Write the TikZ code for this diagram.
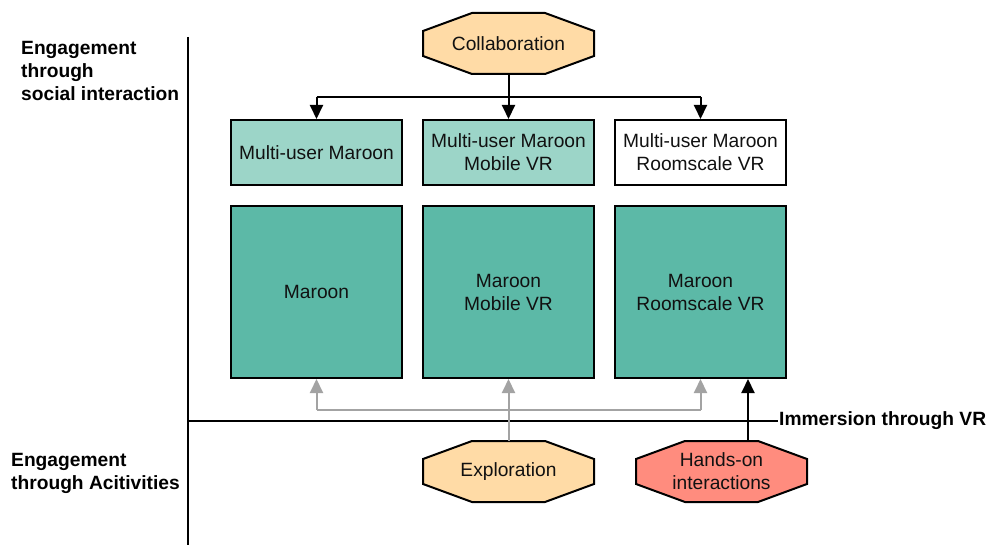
\documentclass[tikz,border=0pt]{standalone}
\usepackage{fontspec}
\setmainfont{Liberation Sans}
\usetikzlibrary{arrows.meta}
\definecolor{octpeach}{HTML}{FFDBA6}
\definecolor{octred}{HTML}{FF8C7E}
\definecolor{lightteal}{HTML}{9CD5C8}
\definecolor{darkteal}{HTML}{5CB9A7}
\definecolor{arrgray}{HTML}{A3A3A3}
\definecolor{ink}{HTML}{111111}
\newcommand\myoct[5]{% name, x, y, fill, text
  \filldraw[fill=#4,draw=black,line width=2pt,line join=miter]
    ({#2-85.5},{#3-12.5}) -- ({#2-36.5},{#3-30.5}) -- ({#2+36.5},{#3-30.5}) -- ({#2+85.5},{#3-12.5})
    -- ({#2+85.5},{#3+12.5}) -- ({#2+36.5},{#3+30.5}) -- ({#2-36.5},{#3+30.5}) -- ({#2-85.5},{#3+12.5}) -- cycle;
  \node[txt,minimum width=171pt,minimum height=61pt,inner sep=0pt] (#1) at (#2,#3) {#5};
}
\begin{document}
\begin{tikzpicture}[x=1pt,y=-1pt,
  txt/.style={font=\fontsize{19.2}{23}\selectfont,text=ink,align=center},
  lbl/.style={font=\fontsize{19.2}{23}\selectfont\bfseries,text=black,align=left},
  box/.style={draw=black,line width=2pt,minimum width=171pt,inner sep=0pt,txt},
  blk/.style={line width=2pt,draw=black},
  barr/.style={line width=2pt,draw=black,-{Triangle[length=14pt,width=13pt]}},
  garr/.style={line width=2pt,draw=arrgray,-{Triangle[length=14pt,width=13pt]}},
  gln/.style={line width=2pt,draw=arrgray}]
\useasboundingbox[fill=white] (0,0) rectangle (995,545);
% axes
\coordinate (axtop) at (188,37);
\coordinate (axbot) at (188,545);
\coordinate (axl) at (188,421);
\coordinate (axr) at (778,421);
\draw[blk] (axtop) -- (axbot);
\draw[blk] (axl) -- (axr);
\node[lbl,anchor=west,inner sep=1pt] (immer) at (axr) {Immersion through VR};
\node[lbl,anchor=north west,inner sep=0pt] (social) at (21,41) {Engagement\\through\\social interaction};
\node[lbl,anchor=north west,inner sep=0pt] (activ) at (11,453) {Engagement\\through Acitivities};
% top boxes
\node[box,fill=lightteal,minimum height=65pt] (b1) at (316.5,152.5) {Multi-user Maroon};
\node[box,fill=lightteal,minimum height=65pt] (b2) at (508.5,152.5) {Multi-user Maroon\\Mobile VR};
\node[box,fill=white,minimum height=65pt] (b3) at (700.5,152.5) {Multi-user Maroon\\Roomscale VR};
% big boxes
\node[box,fill=darkteal,minimum height=172pt] (m1) at (316.5,292) {Maroon};
\node[box,fill=darkteal,minimum height=172pt] (m2) at (508.5,292) {Maroon\\Mobile VR};
\node[box,fill=darkteal,minimum height=172pt] (m3) at (700.5,292) {Maroon\\Roomscale VR};
% octagons
\myoct{collab}{508.5}{43.5}{octpeach}{Collaboration}
\myoct{explor}{508.5}{471.5}{octpeach}{Exploration}
\myoct{hands}{721.5}{471.5}{octred}{Hands-on\\interactions}
% top connectors
\coordinate (jt) at (508.5,97);
\draw[blk] (jt -| b1.north) -- (jt -| b3.north);
\draw[barr] (collab.south) -- (b2.north);
\draw[barr] (jt -| b1.north) -- (b1.north);
\draw[barr] (jt -| b3.north) -- (b3.north);
% bottom gray connectors
\coordinate (jb) at (508.5,410);
\draw[gln] (jb -| m1.south) -- (jb -| m3.south);
\draw[garr] (explor.north) -- (m2.south);
\draw[garr] (jb -| m1.south) -- (m1.south);
\draw[garr] (jb -| m3.south) -- (m3.south);
% hands-on arrow
\coordinate (hx) at (748,441);
\draw[barr] (hx) -- (hx |- m3.south);
\end{tikzpicture}
\end{document}
